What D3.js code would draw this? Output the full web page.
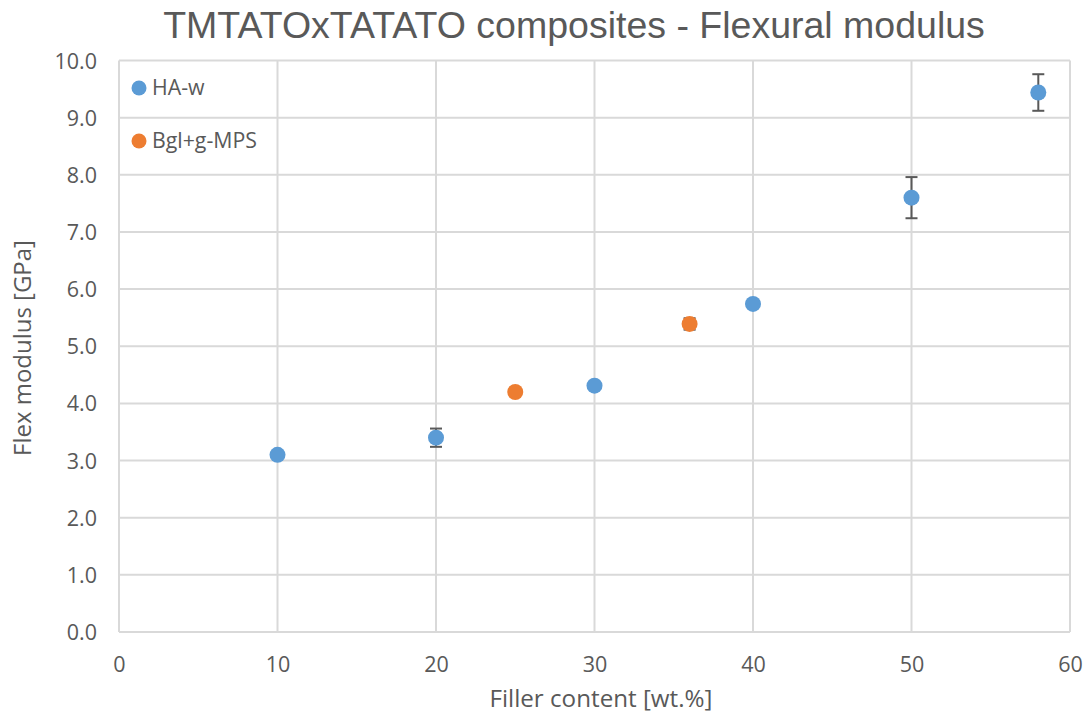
<!DOCTYPE html>
<html>
<head>
<meta charset="utf-8">
<script src="https://cdn.jsdelivr.net/npm/d3@7"></script>
<style>
  html, body { margin: 0; padding: 0; background: #fff; }
  svg text { font-family: "Open Sans", sans-serif; fill: #595959; }
</style>
</head>
<body>
<svg id="chart" width="1089" height="716"></svg>
<script>
// Flexural modulus of TMTATOxTATATO composites vs filler content
const haFiller = [10, 20, 30, 40, 50, 58];
const haModulus = [3.1, 3.4, 4.31, 5.74, 7.6, 9.44];
const haError = [0.03, 0.16, 0.05, 0.06, 0.36, 0.32];

const bglFiller = [25, 36];
const bglModulus = [4.2, 5.39];
const bglError = [0.04, 0.1];

const xTicks = [0, 10, 20, 30, 40, 50, 60];
const yTicks = [0, 1, 2, 3, 4, 5, 6, 7, 8, 9, 10];

const seriesNames = ["HA-w", "Bgl+g-MPS"];
const seriesColors = ["#5B9BD5", "#ED7D31"];

const svg = d3.select("#chart");
const plot = { left: 119, right: 1070, top: 60.5, bottom: 632 };

const x = d3.scaleLinear().domain([0, 60]).range([plot.left, plot.right]);
const y = d3.scaleLinear().domain([0, 10]).range([plot.bottom, plot.top]);

// scale a text element's font size so that it spans the given width
function fitWidth(sel, width) {
  sel.each(function () {
    const base = parseFloat(this.getAttribute("font-size"));
    const w = this.getComputedTextLength();
    if (w > 0) this.setAttribute("font-size", (base * width / w).toFixed(2));
  });
}

// gridlines
const grid = svg.append("g").attr("stroke", "#d9d9d9").attr("stroke-width", 2);
grid.selectAll("line.h").data(yTicks).join("line")
  .attr("x1", plot.left).attr("x2", plot.right)
  .attr("y1", d => y(d)).attr("y2", d => y(d));
grid.selectAll("line.v").data(xTicks).join("line")
  .attr("y1", plot.top).attr("y2", plot.bottom)
  .attr("x1", d => x(d)).attr("x2", d => x(d));

// axes (labels only, lines come from the grid)
const yAxis = svg.append("g").attr("transform", `translate(${plot.left},0)`)
  .call(d3.axisLeft(y).tickValues(yTicks).tickFormat(d3.format(".1f")).tickSize(0).tickPadding(22));
const xAxis = svg.append("g").attr("transform", `translate(0,${plot.bottom})`)
  .call(d3.axisBottom(x).tickValues(xTicks).tickSize(0).tickPadding(22));
[yAxis, xAxis].forEach(a => {
  a.select(".domain").remove();
  a.selectAll("text").attr("font-size", 21.5).style("fill", "#595959")
    .attr("font-family", "'Open Sans', sans-serif");
});
yAxis.selectAll("text").attr("dy", "0.35em");
xAxis.selectAll("text").attr("dy", "0.85em");

// series
function drawSeries(xs, ys, es, color) {
  const g = svg.append("g");
  const data = xs.map((d, i) => ({ x: d, y: ys[i], e: es[i] }));
  const eb = g.append("g").attr("stroke", "#595959").attr("stroke-width", 2);
  eb.selectAll("line.v").data(data).join("line")
    .attr("x1", d => x(d.x)).attr("x2", d => x(d.x))
    .attr("y1", d => y(d.y + d.e)).attr("y2", d => y(d.y - d.e));
  eb.selectAll("line.t").data(data).join("line")
    .attr("x1", d => x(d.x) - 6).attr("x2", d => x(d.x) + 6)
    .attr("y1", d => y(d.y + d.e)).attr("y2", d => y(d.y + d.e));
  eb.selectAll("line.b").data(data).join("line")
    .attr("x1", d => x(d.x) - 6).attr("x2", d => x(d.x) + 6)
    .attr("y1", d => y(d.y - d.e)).attr("y2", d => y(d.y - d.e));
  g.selectAll("circle").data(data).join("circle")
    .attr("cx", d => x(d.x)).attr("cy", d => y(d.y)).attr("r", 8)
    .attr("fill", color);
}
drawSeries(haFiller, haModulus, haError, seriesColors[0]);
drawSeries(bglFiller, bglModulus, bglError, seriesColors[1]);

// legend
const legend = svg.append("g");
seriesNames.forEach((name, i) => {
  const ly = 88 + i * 53;
  legend.append("circle").attr("cx", 139).attr("cy", ly).attr("r", 7.5).attr("fill", seriesColors[i]);
  const t = legend.append("text").attr("x", 152).attr("y", ly).attr("dy", "0.35em")
    .attr("font-size", 17).text(name);
  if (i === 1) fitWidth(t, 105);
});
legend.selectAll("text").attr("font-size", legend.selectAll("text").filter((d, i) => i === 1).attr("font-size"));

// titles
const title = svg.append("text").attr("x", 574).attr("y", 25).attr("dy", "0.35em")
  .attr("text-anchor", "middle").attr("font-size", 34)
  .style("font-family", "'Liberation Sans', Arial, sans-serif")
  .text("TMTATOxTATATO composites - Flexural modulus");
fitWidth(title, 822);
const xTitle = svg.append("text").attr("x", 601).attr("y", 699).attr("dy", "0.35em")
  .attr("text-anchor", "middle").attr("font-size", 19).text("Filler content [wt.%]");
fitWidth(xTitle, 223);
const yTitle = svg.append("text").attr("transform", "translate(23,348) rotate(-90)").attr("dy", "0.35em")
  .attr("text-anchor", "middle").attr("font-size", 19).text("Flex modulus [GPa]");
fitWidth(yTitle, 216);
</script>
</body>
</html>
